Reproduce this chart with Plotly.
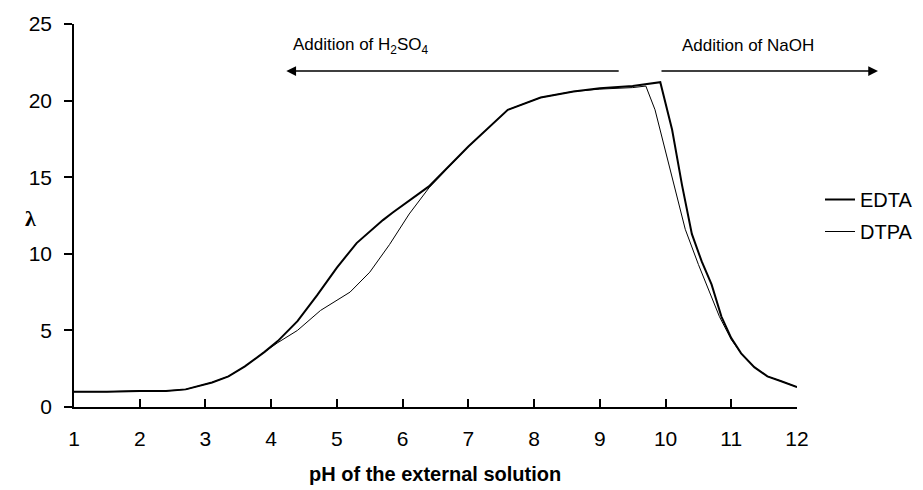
import plotly.graph_objects as go

# pH values and lambda for EDTA
edta_ph = [1.0, 1.5, 2.0, 2.4, 2.7, 3.1, 3.35, 3.6, 3.9, 4.1, 4.4, 4.7, 5.0, 5.3, 5.7, 5.85,
           6.4, 7.0, 7.6, 8.1, 8.6, 9.0, 9.5, 9.92, 10.1, 10.25, 10.4, 10.55, 10.7, 10.85,
           11.0, 11.15, 11.35, 11.55, 11.75, 12.0]
edta_lam = [1.0, 1.0, 1.05, 1.05, 1.15, 1.6, 2.0, 2.65, 3.6, 4.3, 5.6, 7.3, 9.1, 10.7, 12.2, 12.7,
            14.4, 17.0, 19.4, 20.2, 20.6, 20.8, 20.95, 21.2, 18.1, 14.5, 11.3, 9.5, 8.0, 5.9,
            4.5, 3.5, 2.6, 2.0, 1.7, 1.3]

# pH values and lambda for DTPA
dtpa_ph = [1.0, 1.5, 2.0, 2.4, 2.7, 3.1, 3.35, 3.6, 3.9, 4.1, 4.4, 4.75, 5.2, 5.5, 5.8, 6.1,
           6.4, 6.77, 7.0, 7.6, 8.1, 8.6, 9.0, 9.5, 9.7, 9.84, 10.1, 10.3, 10.5, 10.65, 10.82,
           11.0, 11.15, 11.35, 11.55, 11.75, 12.0]
dtpa_lam = [1.0, 1.0, 1.05, 1.05, 1.15, 1.6, 2.0, 2.65, 3.6, 4.2, 5.0, 6.3, 7.5, 8.8, 10.6, 12.6,
            14.3, 16.0, 17.0, 19.4, 20.2, 20.6, 20.75, 20.85, 20.95, 19.4, 15.0, 11.6, 9.3, 7.7, 5.9,
            4.4, 3.5, 2.6, 2.0, 1.7, 1.3]

x_ticks = list(range(1, 13))
y_ticks = [0, 5, 10, 15, 20, 25]

FONT = "Liberation Sans, Arial, sans-serif"

fig = go.Figure()
fig.add_trace(go.Scatter(x=edta_ph, y=edta_lam, mode="lines", name="EDTA",
                         line=dict(color="black", width=2), legendgroup="a"))
fig.add_trace(go.Scatter(x=dtpa_ph, y=dtpa_lam, mode="lines", name="DTPA",
                         line=dict(color="black", width=1), legendgroup="b"))

W, H = 923, 490
OFF = 8  # page body margin: figure drawn 8px right/down of screen origin
# plot area in screen pixels: x 74..797, y 24..407
L = 74 - OFF
T = 24 - OFF
R = W - (797 - OFF)
B = H - (407 - OFF)

def px2paper_x(px):  # screen px -> paper
    return (px - 74) / (797 - 74)

def px2paper_y(py):
    return (407 - py) / (407 - 24)

fig.update_layout(
    width=W, height=H,
    margin=dict(l=L, r=R, t=T, b=B, autoexpand=False),
    paper_bgcolor="white", plot_bgcolor="white",
    font=dict(family=FONT, size=20, color="black"),
    showlegend=True,
    legend=dict(x=px2paper_x(820), y=px2paper_y(180), xanchor="left", yanchor="top",
                font=dict(size=20), traceorder="grouped", tracegroupgap=3,
                bgcolor="rgba(0,0,0,0)"),
    xaxis=dict(range=[1, 12], tickvals=x_ticks, ticktext=[str(v) for v in x_ticks],
               ticks="inside", ticklen=8, tickwidth=1.5, tickcolor="black",
               showline=True, linecolor="black", linewidth=2, showgrid=False,
               zeroline=False, ticklabelstandoff=12, tickfont=dict(size=21),
               automargin=False),
    yaxis=dict(range=[0, 25], tickvals=y_ticks, ticks="outside", ticklen=8,
               tickwidth=1.5, tickcolor="black", showline=True, linecolor="black",
               linewidth=1.5, showgrid=False, zeroline=False, ticklabelstandoff=8,
               tickfont=dict(size=21), automargin=False),
)

annotations = [
    # left arrow (addition of H2SO4)
    dict(x=4.23, y=21.93, ax=9.31, ay=21.93, xref="x", yref="y", axref="x", ayref="y",
         showarrow=True, arrowhead=2, arrowsize=1.3, arrowwidth=1.5, arrowcolor="black", text=""),
    # right arrow (addition of NaOH)
    dict(x=px2paper_x(878), y=px2paper_y(71), xref="paper", yref="paper", ax=-218, ay=0,
         showarrow=True, arrowhead=2, arrowsize=1.3, arrowwidth=1.5, arrowcolor="black", text=""),
    dict(x=px2paper_x(361), y=px2paper_y(46), xref="paper", yref="paper", showarrow=False,
         text="Addition of H<sub>2</sub>SO<sub>4</sub>", font=dict(size=17),
         xanchor="center", yanchor="middle"),
    dict(x=px2paper_x(748), y=px2paper_y(46), xref="paper", yref="paper", showarrow=False,
         text="Addition of NaOH", font=dict(size=17), xanchor="center", yanchor="middle"),
    dict(x=px2paper_x(30), y=px2paper_y(218), xref="paper", yref="paper", showarrow=False,
         text="<b>λ</b>", font=dict(size=22, family="Liberation Serif, serif"),
         xanchor="center", yanchor="middle"),
    dict(x=px2paper_x(435), y=px2paper_y(474), xref="paper", yref="paper", showarrow=False,
         text="<b>pH of the external solution</b>", font=dict(size=20),
         xanchor="center", yanchor="middle"),
]
fig.update_layout(annotations=annotations)

fig.write_html("out.html")
